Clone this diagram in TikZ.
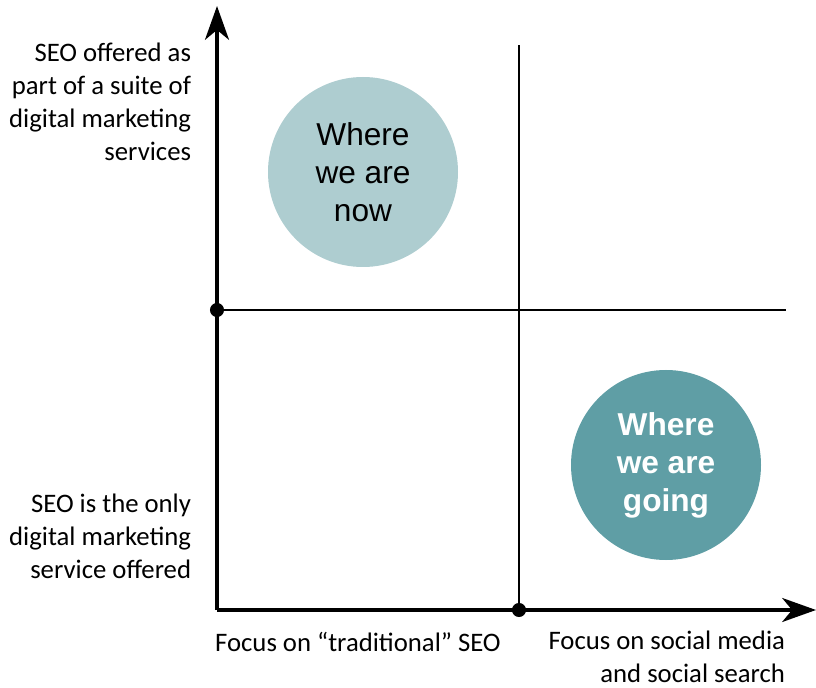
\documentclass[tikz,border=0pt]{standalone}
\usepackage{fontspec}
\setmainfont{Carlito}
\newfontfamily\bubblefont{Liberation Sans}
\usetikzlibrary{arrows.meta}

\definecolor{nowblue}{HTML}{AECDD0}
\definecolor{goingblue}{HTML}{5F9EA5}

\tikzset{
  axis/.style={line width=2.8pt, -{Stealth[length=24pt, width=17pt, inset=7pt]}},
  divider/.style={line width=1.3pt},
  dot/.style={circle, fill=black, inner sep=0pt, minimum size=10pt},
  bubble/.style={circle, inner sep=0pt, minimum size=190*0.025cm, align=center,
                 font=\bubblefont\fontsize{22.5}{27}\selectfont},
  axislabel/.style={align=right, font=\fontsize{19}{23.5}\selectfont},
}

\begin{document}
\begin{tikzpicture}[x=0.025cm, y=-0.025cm]
\useasboundingbox (0,0) rectangle (816,688);

% axes
\coordinate (origin) at (217,610);
\coordinate (ytop) at (217,6);
\coordinate (xend) at (816,610);
\draw[axis] (origin) -- (ytop);
\draw[axis] (origin) -- (xend);

% quadrant lines
\coordinate (vtop) at (519,45);
\coordinate (hend) at (786,310);
\node[dot] (ymid) at (217,310) {};
\node[dot] (xmid) at (519,610) {};
\draw[divider] (ymid) -- (hend);
\draw[divider] (xmid) -- (vtop);

% bubbles
\node[bubble, fill=nowblue, text=black] (now) at (363,172) {Where\\we are\\now};
\node[bubble, fill=goingblue, text=white, font=\bubblefont\fontsize{22.5}{27}\selectfont\bfseries] (going) at (666,465) {Where\\we are\\going};

% axis labels
\node[axislabel, anchor=east] (ysuite) at (196,102) {SEO offered as\\part of a suite of\\digital marketing\\services};
\node[axislabel, anchor=east] (yonly) at (196,536) {SEO is the only\\digital marketing\\service offered};
\node[axislabel] (xtrad) at (358,642) {Focus on ``traditional'' SEO};
\node[axislabel, anchor=east] (xsocial) at (790,657) {Focus on social media\\and social search};

\end{tikzpicture}
\end{document}
